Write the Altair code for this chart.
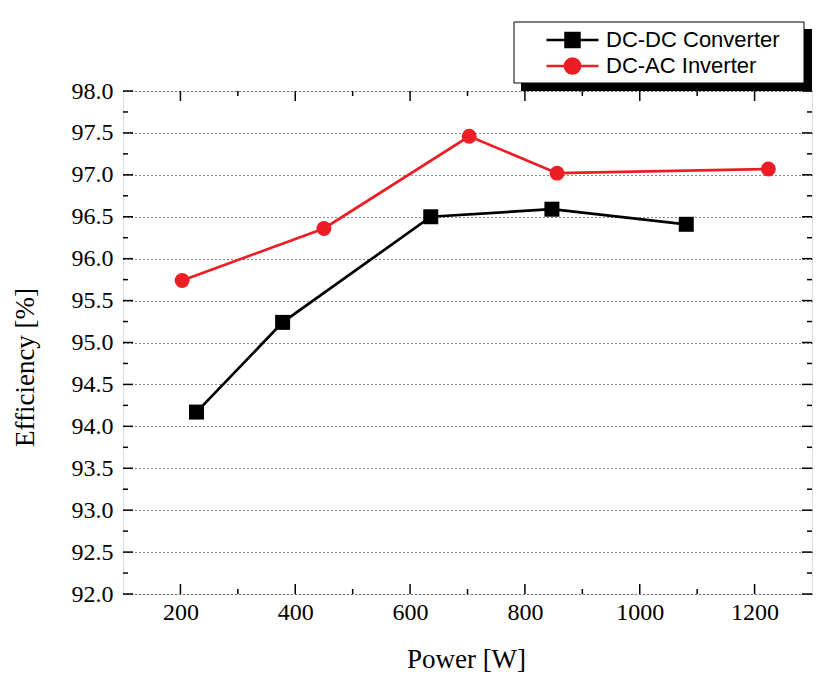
import altair as alt
import pandas as pd

# ---- data ----
series_names = ["DC-DC Converter", "DC-AC Inverter"]
power_dcdc = [228, 378, 636, 847, 1081]
eff_dcdc = [94.17, 95.24, 96.50, 96.59, 96.41]
power_dcac = [203, 450, 703, 856, 1224]
eff_dcac = [95.74, 96.36, 97.46, 97.02, 97.07]

x_major = [200, 400, 600, 800, 1000, 1200]
x_minor = [300, 500, 700, 900, 1100]
y_major = [92.0, 92.5, 93.0, 93.5, 94.0, 94.5, 95.0, 95.5, 96.0, 96.5, 97.0, 97.5, 98.0]
y_minor = [92.25, 92.75, 93.25, 93.75, 94.25, 94.75, 95.25, 95.75, 96.25, 96.75, 97.25, 97.75]

W, H = 689, 503
BLACK = "#000000"
RED = "#ee1c24"

df = pd.DataFrame({
    "power": power_dcdc + power_dcac,
    "eff": eff_dcdc + eff_dcac,
    "series": [series_names[0]] * len(power_dcdc) + [series_names[1]] * len(power_dcac),
})
xmaj = pd.DataFrame({"v": x_major})
xmin = pd.DataFrame({"v": x_minor})
ymaj = pd.DataFrame({"v": y_major})
ymin = pd.DataFrame({"v": y_minor})

xscale = alt.Scale(domain=[100, 1300], nice=False, zero=False)
yscale = alt.Scale(domain=[92, 98], nice=False, zero=False)

xaxis = alt.Axis(values=x_major, format="d", labelFont="Liberation Serif", labelFontSize=24,
                 labelColor=BLACK, labelPadding=6, ticks=False, domain=False, grid=False,
                 title="Power [W]", titleFont="Liberation Serif", titleFontSize=27,
                 titleFontWeight="normal", titleColor=BLACK, titleBaseline="alphabetic",
                 titleY=73, titleX=343)
yaxis = alt.Axis(values=y_major, format=".1f", labelFont="Liberation Serif", labelFontSize=24,
                 labelColor=BLACK, labelPadding=10, ticks=False, domain=False, grid=True,
                 gridDash=[1, 3], gridColor="#111111", gridWidth=1,
                 title="Efficiency [%]", titleFont="Liberation Serif", titleFontSize=27,
                 titleFontWeight="normal", titleColor=BLACK, titleBaseline="alphabetic",
                 titleX=-90, titleY=276)

def X(field="power"):
    return alt.X(f"{field}:Q", scale=xscale, axis=xaxis, title="Power [W]")

def Y(field="eff"):
    return alt.Y(f"{field}:Q", scale=yscale, axis=yaxis, title="Efficiency [%]")

base = alt.Chart(df)

line_dc = base.transform_filter(alt.datum.series == series_names[0]).mark_line(
    color=BLACK, strokeWidth=2.7).encode(x=X(), y=Y())
pt_dc = base.transform_filter(alt.datum.series == series_names[0]).mark_point(
    shape="square", filled=True, size=225, color=BLACK, opacity=1).encode(x=X(), y=Y())
line_ac = base.transform_filter(alt.datum.series == series_names[1]).mark_line(
    color=RED, strokeWidth=2.7).encode(x=X(), y=Y())
pt_ac = base.transform_filter(alt.datum.series == series_names[1]).mark_point(
    shape="circle", filled=True, size=220, color=RED, opacity=1).encode(x=X(), y=Y())

# frame ticks (inward)
def xticks(d, L):
    bot = alt.Chart(d).mark_rule(color=BLACK, strokeWidth=1.5).encode(
        x=X("v"), y=alt.value(H), y2=alt.value(H - L))
    top = alt.Chart(d).mark_rule(color=BLACK, strokeWidth=1.5).encode(
        x=X("v"), y=alt.value(0), y2=alt.value(L))
    return [bot, top]

def yticks(d, L):
    left = alt.Chart(d).mark_rule(color=BLACK, strokeWidth=1.5).encode(
        y=Y("v"), x=alt.value(0), x2=alt.value(L))
    right = alt.Chart(d).mark_rule(color=BLACK, strokeWidth=1.5).encode(
        y=Y("v"), x=alt.value(W), x2=alt.value(W - L))
    return [left, right]

tick_layers = xticks(xmaj, 10) + xticks(xmin, 5) + yticks(ymaj, 10) + yticks(ymin, 5)

# legend box with shadow
one = alt.Data(values=[{"a": 1}])
shadow = alt.Chart(one).mark_rect(color=BLACK).encode(
    x=alt.value(398), x2=alt.value(W), y=alt.value(-62), y2=alt.value(0))
box = alt.Chart(one).mark_rect(fill="white", stroke=BLACK, strokeWidth=1).encode(
    x=alt.value(391), x2=alt.value(681), y=alt.value(-69), y2=alt.value(-8))

sq_path = "M-0.35,0H0.95M0.125,-0.175H0.475V0.175H0.125Z"
ci_path = "M-0.35,0H0.95M0.49,0A0.19,0.19 0 1,1 0.11,0A0.19,0.19 0 1,1 0.49,0Z"

leg = alt.Legend(title=None, orient="none", legendX=391, legendY=-69, padding=5,
                 rowPadding=0, clipHeight=26, symbolSize=6400, symbolStrokeWidth=2.5,
                 labelFont="Liberation Sans", labelFontSize=22, labelColor=BLACK,
                 labelOffset=4, labelLimit=400, symbolOpacity=1)
legend_layer = base.transform_filter("false").mark_point(
    filled=True, size=6400, strokeWidth=2.5).encode(
    x=X(), y=Y(),
    fill=alt.Fill("series:N", scale=alt.Scale(domain=series_names, range=[BLACK, RED]), legend=leg),
    stroke=alt.Stroke("series:N", scale=alt.Scale(domain=series_names, range=[BLACK, RED]), legend=leg),
    shape=alt.Shape("series:N", scale=alt.Scale(domain=series_names, range=[sq_path, ci_path]), legend=leg),
)

chart = alt.layer(
    line_dc, line_ac, pt_dc, pt_ac, *tick_layers, shadow, box, legend_layer
).properties(
    width=W, height=H,
    autosize=alt.AutoSizeParams(type="none"),
    padding={"left": 115, "top": 83, "right": 5, "bottom": 82},
).configure_view(
    stroke=BLACK, strokeWidth=2
).configure(background="white")

chart.save("out.html", embed_options={"renderer": "svg", "actions": False})
